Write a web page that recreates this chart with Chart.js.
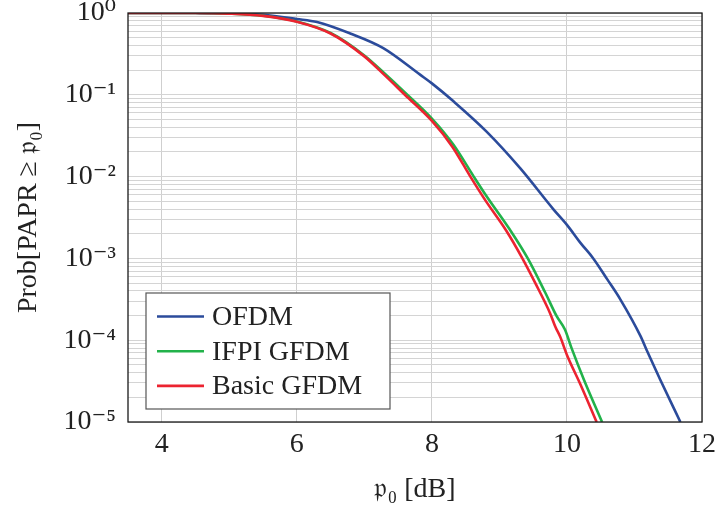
<!DOCTYPE html>
<html>
<head>
<meta charset="utf-8">
<script src="https://cdn.jsdelivr.net/npm/chart.js@4.4.1/dist/chart.umd.min.js"></script>
<style>
  html, body { margin: 0; padding: 0; background: #fff; }
  #wrap { width: 718px; height: 510px; }
</style>
</head>
<body>
<div id="wrap"><canvas id="myChart" width="718" height="510"></canvas></div>
<script>
// values (x in dB, y = probability)
const xOFDM = [3.5, 4.5, 5.0, 5.5, 6.0, 6.3, 6.79, 7.28, 7.83, 8.0, 8.32, 8.81, 9.31, 9.8, 10.0, 10.2, 10.39, 10.6, 10.79, 11.09, 11.18, 11.38, 11.68]
const yOFDM = [1, 0.998, 0.989, 0.951, 0.845, 0.776, 0.562, 0.372, 0.175, 0.138, 0.0832, 0.0355, 0.0126, 0.00398, 0.00257, 0.00155, 0.001, 5.5e-4, 3.16e-4, 1.12e-4, 7.59e-5, 3.31e-5, 1e-5]

const xIFPI = [3.5, 4.5, 5.0, 5.5, 6.0, 6.5, 7.0, 7.3, 7.6, 8.0, 8.32, 8.62, 8.81, 9.18, 9.42, 9.68, 9.85, 9.97, 10.07, 10.25, 10.52]
const yIFPI = [1, 0.998, 0.982, 0.925, 0.787, 0.569, 0.302, 0.182, 0.107, 0.0513, 0.0245, 0.01, 0.00575, 0.00209, 0.001, 3.80e-4, 1.95e-4, 1.35e-4, 7.94e-5, 3.31e-5, 1e-5]

const xBasic = [3.5, 4.5, 5.0, 5.5, 6.0, 6.5, 7.0, 7.3, 7.6, 8.0, 8.3, 8.57, 8.8, 9.1, 9.34, 9.53, 9.75, 9.83, 9.9, 10.0, 10.2, 10.44]
const yBasic = [1, 0.998, 0.982, 0.923, 0.783, 0.562, 0.295, 0.174, 0.1, 0.0479, 0.0234, 0.01, 0.00501, 0.00219, 0.001, 5.01e-4, 2.14e-4, 1.45e-4, 1.10e-4, 6.61e-5, 2.88e-5, 1e-5]

const seriesNames = ["OFDM", "IFPI GFDM", "Basic GFDM"]
const seriesColors = ["#2b4b9b", "#22b24a", "#ec2330"]

const xTicks = [4, 6, 8, 10, 12]
const yDecades = [1e-5, 1e-4, 1e-3, 1e-2, 1e-1, 1]
const yDecadeLabels = ["10⁻⁵", "10⁻⁴", "10⁻³", "10⁻²", "10⁻¹", "10⁰"]

const serif = "'Liberation Serif', 'DejaVu Serif', serif"

function toPoints(xs, ys) {
    let pts = []
    for (let i = 0; i < xs.length; i++) {
        pts.push({ x: xs[i], y: ys[i] })
    }
    return pts
}

// minor log ticks 1..9 per decade
function logTicks() {
    let t = []
    for (let d = 0; d < yDecades.length; d++) {
        if (d == yDecades.length - 1) {
            t.push({ value: yDecades[d] })
            break
        }
        for (let m = 1; m <= 9; m++) {
            t.push({ value: yDecades[d] * m })
        }
    }
    return t
}

const frameAndLegend = {
    id: "frameAndLegend",
    afterDraw(chart) {
        const c = chart.ctx
        const a = chart.chartArea
        c.save()
        c.strokeStyle = "#1a1a1a"
        c.lineWidth = 1.3
        c.strokeRect(a.left, a.top, a.right - a.left, a.bottom - a.top)

        // legend box inside the plot, lower left
        const bx = a.left + 18, by = a.bottom - 129, bw = 244, bh = 116
        c.fillStyle = "#fff"
        c.fillRect(bx, by, bw, bh)
        c.strokeStyle = "#555"
        c.lineWidth = 1.2
        c.strokeRect(bx, by, bw, bh)
        c.font = "28px " + serif
        c.textBaseline = "middle"
        for (let i = 0; i < seriesNames.length; i++) {
            const ly = by + 23.5 + i * 34.7
            c.strokeStyle = seriesColors[i]
            c.lineWidth = 2.6
            c.beginPath()
            c.moveTo(bx + 11, ly)
            c.lineTo(bx + 58, ly)
            c.stroke()
            c.fillStyle = "#222"
            c.fillText(seriesNames[i], bx + 66, ly + 1)
        }
        c.restore()
    }
}

const ctx = document.getElementById("myChart")

new Chart(ctx, {
    type: "line",
    data: {
        datasets: [
            { label: seriesNames[0], data: toPoints(xOFDM, yOFDM), borderColor: seriesColors[0], order: 2 },
            { label: seriesNames[1], data: toPoints(xIFPI, yIFPI), borderColor: seriesColors[1], order: 1 },
            { label: seriesNames[2], data: toPoints(xBasic, yBasic), borderColor: seriesColors[2], order: 0 }
        ]
    },
    options: {
        responsive: false,
        animation: false,
        devicePixelRatio: 1,
        layout: { padding: { top: 13, right: 16, left: 0, bottom: 0 } },
        elements: {
            point: { radius: 0 },
            line: { borderWidth: 2.6, cubicInterpolationMode: "monotone", fill: false }
        },
        plugins: {
            legend: { display: false },
            tooltip: { enabled: false }
        },
        scales: {
            x: {
                type: "linear",
                min: 3.5,
                max: 12,
                afterBuildTicks: s => { s.ticks = xTicks.map(v => ({ value: v })) },
                afterFit: s => {
                    s.height = 88
                    s.paddingLeft = 0
                    s.paddingRight = 0
                },
                border: { display: false },
                grid: { color: "#cfcfcf", lineWidth: 1, drawTicks: false },
                ticks: {
                    color: "#222",
                    font: { family: serif, size: 28 },
                    padding: 6,
                    maxRotation: 0
                },
                title: {
                    display: true,
                    text: "𝔭₀ [dB]",
                    color: "#222",
                    font: { family: serif, size: 28 },
                    padding: { top: 2 }
                }
            },
            y: {
                type: "logarithmic",
                min: 1e-5,
                max: 1,
                afterBuildTicks: s => { s.ticks = logTicks() },
                afterFit: s => {
                    s.width = 128
                    s.paddingTop = 0
                    s.paddingBottom = 0
                },
                border: { display: false },
                grid: { color: "#d4d4d4", lineWidth: 1, drawTicks: false },
                ticks: {
                    color: "#222",
                    font: { family: serif, size: 28 },
                    padding: 12,
                    autoSkip: false,
                    callback: function (v) {
                        const k = yDecades.indexOf(v)
                        return k >= 0 ? yDecadeLabels[k] : ""
                    }
                },
                title: {
                    display: true,
                    text: "Prob[PAPR ≥ 𝔭₀]",
                    color: "#222",
                    font: { family: serif, size: 28 },
                    padding: { top: 12, bottom: 0 }
                }
            }
        }
    },
    plugins: [frameAndLegend]
})
</script>
</body>
</html>
